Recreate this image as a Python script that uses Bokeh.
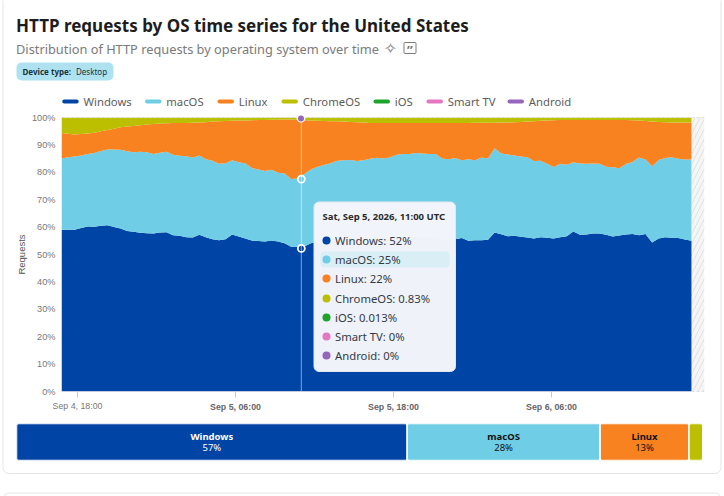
import numpy as np
from bokeh.core.properties import value
from bokeh.embed import file_html
from bokeh.resources import INLINE
from bokeh.plotting import figure
from bokeh.layouts import column
from bokeh.models import BoxAnnotation, Label, Span, Range1d, FixedTicker

# ---------- data ----------
OS_NAMES = ["Windows", "macOS", "Linux", "ChromeOS", "iOS", "Smart TV", "Android"]
OS_COLORS = ["#0045a5", "#70cde6", "#f8821f", "#bcbf00", "#1ea32d", "#e377c2", "#9467bd"]

# top edge of each stacked band, in percent, half-hour steps
windows_top = [59.0, 59.0, 59.0, 59.7, 60.2, 60.1, 60.5, 60.7, 60.0, 59.5, 58.6, 58.3, 57.9, 57.8, 57.7, 58.0,
               58.1, 57.0, 56.8, 56.3, 56.2, 57.2, 56.3, 55.6, 55.2, 55.6, 57.3, 56.6, 55.8, 55.1, 54.9, 54.7,
               55.1, 54.7, 54.1, 52.8, 52.7, 52.9, 54.1, 54.6, 54.9, 55.1, 55.3, 55.5, 55.9, 56.2, 56.2, 56.3,
               56.4, 56.4, 56.5, 56.4, 56.6, 56.5, 56.7, 56.6, 56.7, 56.3, 55.2, 55.6, 55.6, 56.0, 55.0, 55.2,
               55.2, 55.4, 58.0, 57.4, 56.7, 56.8, 56.5, 56.2, 55.8, 56.3, 56.1, 55.8, 56.3, 56.7, 58.4, 57.2,
               57.3, 57.7, 57.7, 57.2, 56.6, 56.9, 57.3, 57.5, 57.0, 57.5, 54.4, 55.8, 56.3, 56.1, 56.0, 55.5, 55.0]
macos_top = [85.0, 85.5, 85.8, 86.1, 86.7, 87.0, 87.8, 88.3, 88.3, 88.2, 87.7, 87.3, 87.5, 87.3, 86.7, 87.1,
             87.5, 86.4, 86.0, 85.9, 85.4, 86.1, 84.8, 84.2, 83.1, 83.3, 84.4, 83.7, 83.3, 81.6, 81.0, 80.5,
             80.9, 79.8, 79.6, 77.6, 77.7, 79.4, 81.0, 82.0, 82.7, 83.3, 84.2, 84.4, 84.5, 84.1, 84.4, 84.9,
             85.3, 85.0, 85.4, 86.4, 86.7, 86.7, 87.0, 86.9, 86.7, 86.7, 85.0, 84.8, 85.2, 84.4, 84.8, 84.4,
             85.4, 85.0, 88.8, 86.9, 86.5, 86.1, 85.8, 85.5, 84.1, 84.2, 83.1, 81.9, 83.1, 82.8, 83.7, 83.2,
             83.1, 83.2, 83.1, 82.0, 81.8, 81.5, 83.0, 83.8, 85.4, 84.7, 82.2, 84.5, 85.2, 85.5, 84.9, 84.7, 84.7]
linux_top = [94.3, 94.1, 93.8, 94.0, 94.2, 94.4, 95.0, 95.4, 95.9, 96.4, 96.7, 96.9, 97.2, 97.4, 97.6, 97.8,
             97.9, 98.0, 98.0, 98.0, 98.1, 98.2, 98.3, 98.5, 98.6, 98.7, 98.8, 98.9, 98.9, 99.0, 99.1, 99.1,
             99.2, 99.2, 99.3, 99.3, 99.1, 99.0, 98.9, 98.8, 98.7, 98.6, 98.6, 98.5, 98.4, 98.3, 98.2, 98.0,
             98.0, 98.0, 98.0, 98.0, 98.0, 98.0, 98.0, 98.0, 98.0, 98.0, 98.0, 98.0, 98.0, 98.0, 98.0, 98.1,
             98.1, 98.1, 98.1, 98.2, 98.2, 98.3, 98.4, 98.5, 98.6, 98.8, 98.9, 99.0, 99.1, 99.1, 99.1, 99.1,
             99.1, 99.1, 99.1, 99.1, 99.1, 99.1, 99.1, 99.0, 98.9, 98.7, 98.5, 98.4, 98.3, 98.2, 98.2, 98.2, 98.2]

hover_hour = 17.0
hover_values = [52.2, 77.5, 100.0]
tooltip_values = ["52%", "25%", "22%", "0.83%", "0.013%", "0%", "0%"]

tick_hours = [0, 12, 24, 36]
tick_labels = ["Sep 4, 18:00", "Sep 5, 06:00", "Sep 5, 18:00", "Sep 6, 06:00"]
bold_ticks = [1, 2, 3]

share_names = ["Windows", "macOS", "Linux", "ChromeOS"]
share_values = [56.7, 28.0, 12.9, 2.0]
share_texts = ["57%", "28%", "13%", ""]
share_colors = ["#0045a5", "#70cde6", "#f8821f", "#bcbf00"]

# ---------- scales ----------
T0, T1, TMAX = -1.215, 46.63, 47.62
FRAME_L, FRAME_R = 61, 704
hours = np.linspace(T0, T1, len(windows_top))
zeros = np.zeros(len(windows_top))
TEXT = "Noto Sans"
BORDER = "#e4e4e4"

p = figure(width=724, height=420, output_backend="svg", toolbar_location=None,
           x_range=Range1d(T0, TMAX), y_range=Range1d(0, 100), frame_align=False,
           min_border_left=FRAME_L, min_border_right=724 - FRAME_R, min_border_top=117, min_border_bottom=29,
           outline_line_color=None, background_fill_color="white", border_fill_color=None)
p.grid.visible = False

# transparent full-page layer for everything that is not a data mark
o = figure(width=724, height=496, output_backend="svg", toolbar_location=None,
           x_range=Range1d(0, 724), y_range=Range1d(496, 0), x_axis_location=None, y_axis_location=None,
           min_border=0, outline_line_color=None, background_fill_color=None, border_fill_color=None,
           styles={"position": "absolute", "left": "0", "top": "0"})
o.grid.visible = False


def box(l, r, t, b, fill=None, line=None, radius=0, alpha=1.0, lw=1):
    o.add_layout(BoxAnnotation(left=l, right=r, top=t, bottom=b,
                               left_units="canvas", right_units="canvas", top_units="canvas", bottom_units="canvas",
                               fill_color=fill, fill_alpha=alpha if fill else 0, line_color=line,
                               line_alpha=1 if line else 0, line_width=lw, border_radius=int(radius)))


def text(x, y, s, size, color, style="normal", align="left", font=TEXT):
    o.add_layout(Label(x=x, y=y, x_units="canvas", y_units="canvas", text=s, text_font=font,
                       text_font_size=f"{size}px", text_color=color, text_font_style=style,
                       text_align=align, text_baseline="middle"))


# hatched "no data" strip and grid behind it
p.quad(left=[T1], right=[TMAX], bottom=[0], top=[100], fill_color="#f5f5f5", line_color=None,
       hatch_pattern="right_diagonal_line", hatch_color="#e2e2e2", hatch_scale=10, hatch_weight=1)
for v in range(10, 100, 10):
    p.add_layout(Span(location=v, dimension="width", line_color="#e6e6e6", line_width=1, line_dash="dashed", level="underlay"))

# stacked bands
p.varea(hours, zeros, windows_top, fill_color=OS_COLORS[0])
p.varea(hours, windows_top, macos_top, fill_color=OS_COLORS[1])
p.varea(hours, macos_top, linux_top, fill_color=OS_COLORS[2])
p.varea(hours, linux_top, np.full(len(hours), 100.0), fill_color=OS_COLORS[3])
for v in (0, 100):
    p.add_layout(Span(location=v, dimension="width", line_color="#c4c4c4", line_width=1, line_dash=[3, 2]))

# axes
xa = p.xaxis[0]
xa.ticker = FixedTicker(ticks=tick_hours)
xa.major_label_overrides = {h: ("" if i in bold_ticks else tick_labels[i]) for i, h in enumerate(tick_hours)}
xa.axis_line_color = None
xa.major_tick_line_color = "#c8c8c8"
xa.major_tick_in = 0
xa.major_tick_out = 6
xa.minor_tick_line_color = None
xa.major_label_text_font = "Liberation Sans"
xa.major_label_text_font_size = "8.8px"
xa.major_label_text_color = "#777777"
xa.major_label_standoff = 3
ya = p.yaxis[0]
ya.ticker = FixedTicker(ticks=list(range(0, 101, 10)))
ya.major_label_overrides = {v: f"{v}%" for v in range(0, 101, 10)}
ya.axis_line_color = None
ya.major_tick_line_color = None
ya.major_tick_in = 0
ya.major_tick_out = 0
ya.minor_tick_line_color = None
ya.major_label_text_font = "Liberation Sans"
ya.major_label_text_font_size = "9.2px"
ya.major_label_text_color = "#777777"
ya.major_label_standoff = 6
ya.axis_label = "Requests"
ya.axis_label_text_font = "Liberation Sans"
ya.axis_label_text_font_size = "9.5px"
ya.axis_label_text_font_style = "normal"
ya.axis_label_text_color = "#555555"
ya.axis_label_standoff = 2
for i in bold_ticks:
    tick_px = FRAME_L + (tick_hours[i] - T0) * (FRAME_R - FRAME_L) / (TMAX - T0)
    text(tick_px, 406, tick_labels[i], 8.8, "#666666", "bold", "center", "Liberation Sans")

# hover crosshair and markers
p.add_layout(Span(location=hover_hour, dimension="height", line_color="#ffffff", line_alpha=0.5, line_width=1))
p.scatter([hover_hour, hover_hour], hover_values[:2], size=7, marker="circle",
          fill_color=[OS_COLORS[0], OS_COLORS[1]], line_color="white", line_width=1.8, level="annotation")
box(296, 305, 113, 122, fill="white", radius=5)
box(297.5, 303.5, 115, 121, fill=OS_COLORS[6], radius=3)

# card and heading
box(2.5, 720.5, -10, 473, line=BORDER, radius=6)
box(2.5, 720.5, 492.5, 530, line=BORDER, radius=6)
text(15.5, 24.5, "HTTP requests by OS time series for the United States", 17, "#1d1d1d", "bold")
text(15.5, 48, "Distribution of HTTP requests by operating system over time", 12.8, "#7a7a7a")
text(390, 47.5, "✧", 16, "#7a7a7a", align="center", font="DejaVu Sans")
box(403.5, 415.5, 42, 53, line="#7a7a7a", radius=1)
text(409.5, 49, "”", 13, "#7a7a7a", "bold", align="center")
box(16, 113, 62, 80, fill="#aee2f0", radius=5)
text(22, 71, "Device type:", 8, "#17333d", "bold")
text(75.5, 71, "Desktop", 8, "#17333d")

# legend
swatch_x = [61.7, 144.5, 217, 281, 373, 426, 507]
for name, col, sx in zip(OS_NAMES, OS_COLORS, swatch_x):
    box(sx, sx + 16.5, 99, 103, fill=col, radius=2)
    text(sx + 21.3, 101, name, 11.3, "#5c5c5c")

# tooltip
box(313.5, 455, 201.5, 371, fill="#f4f6fb", line="#e3e7ee", radius=5, alpha=0.98)
text(322, 216, "Sat, Sep 5, 2026, 11:00 UTC", 9.5, "#2a2a2a", "bold")
box(320, 449, 251, 267, fill="#d9eef5", radius=4)
row_y = [240, 259, 278, 298, 317, 336, 355]
for name, col, val, ry in zip(OS_NAMES, OS_COLORS, tooltip_values, row_y):
    box(322, 330, ry - 4, ry + 4, fill=col, radius=4)
    text(334.5, ry, f"{name}: {val}", 11.3, "#333a44")

# share bar
q = figure(width=724, height=76, output_backend="svg", toolbar_location=None,
           x_range=Range1d(0, 100), y_range=Range1d(0, 1), frame_align=False,
           min_border_left=16, min_border_right=19, min_border_top=3, min_border_bottom=36,
           outline_line_color=None, border_fill_color=None, background_fill_color=None)
q.axis.visible = False
q.grid.visible = False
lefts = np.cumsum([0] + share_values[:-1])
rights = np.cumsum(share_values)
q.quad(left=lefts, right=rights, bottom=0, top=1, fill_color=share_colors, line_color="white", line_width=1.5, border_radius=2)
centers = (lefts + rights) / 2
text_cols = ["white", "#111111", "#111111", "#111111"]
for c, n, s, tc in zip(centers[:3], share_names[:3], share_texts[:3], text_cols[:3]):
    q.text([c], [0.64], text=[n], text_font=value(TEXT), text_font_size="9.5px", text_font_style="bold",
           text_color=tc, text_align="center", text_baseline="middle")
    q.text([c], [0.34], text=[s], text_font=value(TEXT), text_font_size="9.5px",
           text_color=tc, text_align="center", text_baseline="middle")

page = column(p, q, spacing=0, styles={"position": "absolute", "left": "0", "top": "0"})
open("out.html", "w").write(file_html([page, o], INLINE))
